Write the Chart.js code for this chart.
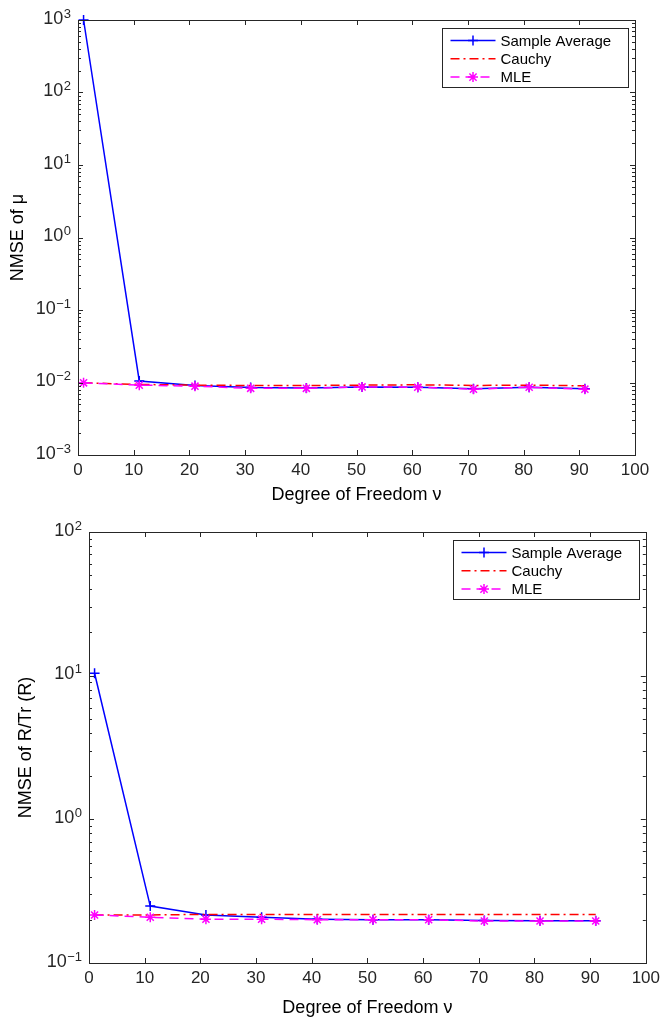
<!DOCTYPE html>
<html>
<head>
<meta charset="utf-8">
<script src="https://cdn.jsdelivr.net/npm/chart.js@4.4.1/dist/chart.umd.min.js"></script>
<style>
  html, body { margin: 0; padding: 0; background: #fff; }
  .panel { position: relative; width: 665px; height: 512px; }
</style>
</head>
<body>
<div class="panel"><canvas id="chart-mu"></canvas></div>
<div class="panel"><canvas id="chart-r"></canvas></div>
<script>
// degrees of freedom (x)
const dof = [1, 11, 21, 31, 41, 51, 61, 71, 81, 91];
const xTicks = [0, 10, 20, 30, 40, 50, 60, 70, 80, 90, 100];

// top panel: NMSE of mu
const sampleMu = [1000, 0.0105, 0.0091, 0.0085, 0.0084, 0.0087, 0.0086, 0.0082, 0.0086, 0.0082];
const cauchyMu = [0.0099, 0.0094, 0.0092, 0.0091, 0.0091, 0.0092, 0.0093, 0.0091, 0.0092, 0.0090];
const mleMu = [0.0099, 0.0092, 0.0089, 0.0083, 0.0083, 0.0087, 0.0086, 0.0081, 0.0086, 0.0081];
const yTicksMu = [1e-3, 1e-2, 1e-1, 1e0, 1e1, 1e2, 1e3];
const yExpMu = ['\u22123', '\u22122', '\u22121', '0', '1', '2', '3'];

// bottom panel: NMSE of R/Tr(R)
const sampleR = [10.4, 0.249, 0.216, 0.208, 0.202, 0.200, 0.200, 0.198, 0.197, 0.197];
const cauchyR = [0.216, 0.216, 0.218, 0.218, 0.218, 0.218, 0.218, 0.218, 0.218, 0.218];
const mleR = [0.216, 0.208, 0.202, 0.202, 0.200, 0.200, 0.200, 0.196, 0.196, 0.196];
const yTicksR = [1e-1, 1e0, 1e1, 1e2];
const yExpR = ['\u22121', '0', '1', '2'];

const seriesLabels = ['Sample Average', 'Cauchy', 'MLE'];
const FONT = '"Liberation Sans", Arial, Helvetica, sans-serif';
const AXIS_COLOR = '#262626';

Chart.defaults.font.family = FONT;
Chart.defaults.color = AXIS_COLOR;

function drawMarker(ctx, style, x, y, r) {
    ctx.beginPath();
    if (style === 'cross' || style === 'star') {
        ctx.moveTo(x - r, y); ctx.lineTo(x + r, y);
        ctx.moveTo(x, y - r); ctx.lineTo(x, y + r);
    }
    if (style === 'star') {
        const d = r * 0.72;
        ctx.moveTo(x - d, y - d); ctx.lineTo(x + d, y + d);
        ctx.moveTo(x - d, y + d); ctx.lineTo(x + d, y - d);
    }
    ctx.stroke();
}

// matlab style box, inside ticks, 10^n labels and legend
const matlabAxes = {
    id: 'matlabAxes',
    afterDraw(chart, args, opts) {
        const ctx = chart.ctx;
        const a = chart.chartArea;
        const xs = chart.scales.x;
        const ys = chart.scales.y;
        ctx.save();
        ctx.strokeStyle = AXIS_COLOR;
        ctx.lineWidth = 1;
        ctx.setLineDash([]);

        const line = (x1, y1, x2, y2) => {
            ctx.beginPath(); ctx.moveTo(x1, y1); ctx.lineTo(x2, y2); ctx.stroke();
        };

        xs.ticks.forEach((t) => {
            const px = Math.round(xs.getPixelForValue(t.value)) + 0.5;
            line(px, a.bottom, px, a.bottom - 5);
            line(px, a.top, px, a.top + 5);
        });

        const lo = Math.round(Math.log10(ys.min));
        const hi = Math.round(Math.log10(ys.max));
        for (let d = lo; d <= hi; d++) {
            const py = Math.round(ys.getPixelForValue(Math.pow(10, d))) + 0.5;
            line(a.left, py, a.left + 5, py);
            line(a.right, py, a.right - 5, py);
            if (d === hi) continue;
            for (let k = 2; k <= 9; k++) {
                const my = Math.round(ys.getPixelForValue(k * Math.pow(10, d))) + 0.5;
                line(a.left, my, a.left + 3, my);
                line(a.right, my, a.right - 3, my);
            }
        }

        ctx.strokeRect(Math.round(a.left) + 0.5, Math.round(a.top) + 0.5,
            Math.round(a.right - a.left), Math.round(a.bottom - a.top));

        // y labels as 10 with a raised exponent
        ctx.fillStyle = AXIS_COLOR;
        ctx.textBaseline = 'alphabetic';
        ys.ticks.forEach((t, i) => {
            const py = ys.getPixelForValue(t.value);
            const exp = opts.exponents[i];
            ctx.font = '13px ' + FONT;
            const ew = ctx.measureText(exp).width;
            const xEnd = a.left - 7;
            ctx.textAlign = 'left';
            ctx.fillText(exp, xEnd - ew, py - 2.5);
            ctx.font = '18px ' + FONT;
            ctx.textAlign = 'right';
            ctx.fillText('10', xEnd - ew - 0.5, py + 3.5);
        });

        // legend box in the top right corner
        const bw = 186, bh = 59;
        const bx = Math.round(a.right - 7 - bw) + 0.5;
        const by = Math.round(a.top + 8) + 0.5;
        ctx.fillStyle = '#fff';
        ctx.fillRect(bx, by, bw, bh);
        ctx.strokeStyle = AXIS_COLOR;
        ctx.strokeRect(bx, by, bw, bh);
        chart.data.datasets.forEach((ds, i) => {
            const ry = by + 12 + i * 18.3;
            ctx.strokeStyle = ds.borderColor;
            ctx.lineWidth = 1.5;
            ctx.setLineDash(ds.borderDash || []);
            line(bx + 8, ry, bx + 53, ry);
            ctx.setLineDash([]);
            if (ds.pointRadius > 0) {
                drawMarker(ctx, ds.pointStyle, bx + 30.5, ry, ds.pointRadius);
            }
            ctx.fillStyle = '#000';
            ctx.font = '15px ' + FONT;
            ctx.textAlign = 'left';
            ctx.textBaseline = 'middle';
            ctx.fillText(ds.label, bx + 58, ry + 1);
        });
        ctx.restore();
    }
};

function createChart(canvas, sample, cauchy, mle, yTicks, yExps, yTitle, box) {
    const toPoints = (vals) => vals.map((v, i) => ({ x: dof[i], y: v }));
    return new Chart(canvas.getContext('2d'), {
        type: 'line',
        data: {
            datasets: [
                {
                    label: seriesLabels[0],
                    data: toPoints(sample),
                    borderColor: '#0000ff',
                    borderWidth: 1.5,
                    pointStyle: 'cross',
                    pointRadius: 5,
                    pointBorderWidth: 1.5,
                    pointBorderColor: '#0000ff',
                    order: 2,
                    clip: false,
                },
                {
                    label: seriesLabels[1],
                    data: toPoints(cauchy),
                    borderColor: '#ff0000',
                    borderWidth: 1.5,
                    borderDash: [9, 4, 2, 4],
                    pointRadius: 0,
                    order: 1,
                    clip: false,
                },
                {
                    label: seriesLabels[2],
                    data: toPoints(mle),
                    borderColor: '#ff00ff',
                    borderWidth: 1.5,
                    borderDash: [9, 6],
                    pointStyle: 'star',
                    pointRadius: 5,
                    pointBorderWidth: 1.5,
                    pointBorderColor: '#ff00ff',
                    order: 0,
                    clip: false,
                },
            ],
        },
        options: {
            responsive: true,
            maintainAspectRatio: false,
            animation: false,
            events: [],
            layout: {
                padding: { top: box.top, right: box.right, left: 0, bottom: 0 },
            },
            scales: {
                x: {
                    type: 'linear',
                    min: 0,
                    max: 100,
                    afterBuildTicks: (scale) => { scale.ticks = xTicks.map(v => ({ value: v })); },
                    afterFit: (scale) => { scale.height = box.xHeight; },
                    grid: { display: false, drawTicks: false },
                    border: { display: false },
                    ticks: {
                        padding: 5,
                        color: AXIS_COLOR,
                        font: { size: 17 },
                        maxRotation: 0,
                    },
                    title: {
                        display: true,
                        text: 'Degree of Freedom \u03bd',
                        color: '#000',
                        font: { size: 18 },
                        padding: { top: 0, bottom: box.xTitlePad },
                    },
                },
                y: {
                    type: 'logarithmic',
                    min: yTicks[0],
                    max: yTicks[yTicks.length - 1],
                    afterBuildTicks: (scale) => { scale.ticks = yTicks.map(v => ({ value: v })); },
                    afterFit: (scale) => { scale.width = box.left; },
                    grid: { display: false, drawTicks: false },
                    border: { display: false },
                    ticks: { display: false },
                    title: {
                        display: true,
                        text: yTitle,
                        color: '#000',
                        font: { size: 18 },
                        padding: { top: box.yTitlePad, bottom: 0 },
                    },
                },
            },
            plugins: {
                legend: { display: false },
                tooltip: { enabled: false },
                matlabAxes: { exponents: yExps },
            },
        },
        plugins: [matlabAxes],
    });
}

const canvasMu = document.getElementById('chart-mu');
const canvasR = document.getElementById('chart-r');

const muChart = createChart(canvasMu, sampleMu, cauchyMu, mleMu, yTicksMu, yExpMu, 'NMSE of \u03bc',
    { top: 20, right: 30, left: 78, xHeight: 57, xTitlePad: 6, yTitlePad: 7 });
const rChart = createChart(canvasR, sampleR, cauchyR, mleR, yTicksR, yExpR, 'NMSE of R/Tr (R)',
    { top: 20, right: 16, left: 89, xHeight: 61, xTitlePad: 5, yTitlePad: 15 });
</script>
</body>
</html>
